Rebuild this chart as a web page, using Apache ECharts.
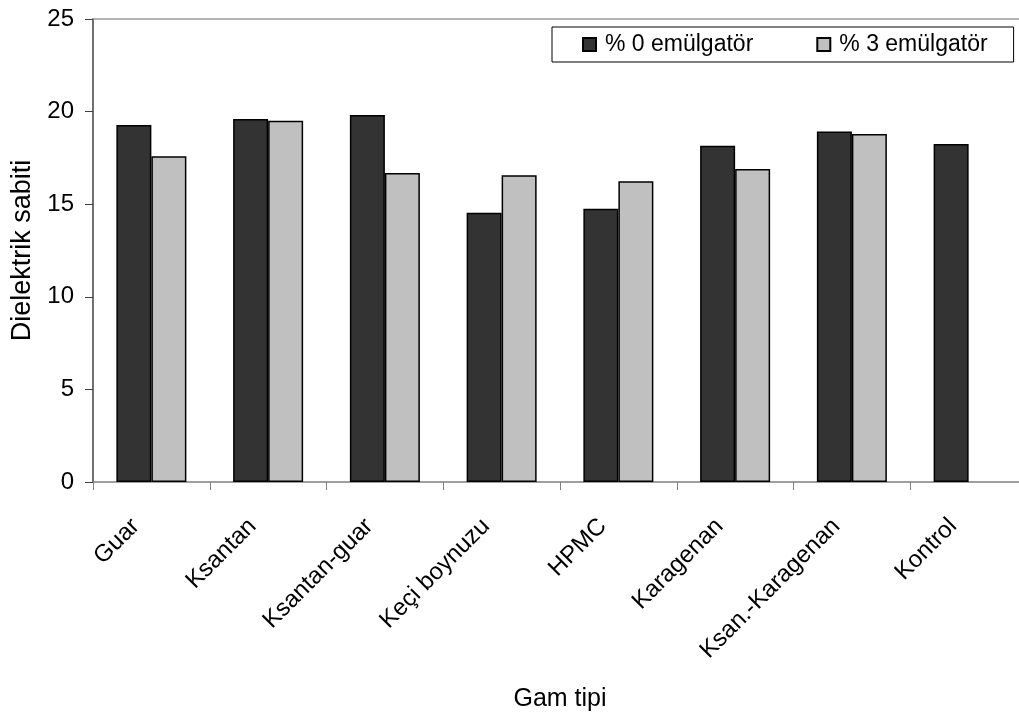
<!DOCTYPE html>
<html><head><meta charset="utf-8">
<script src="https://cdn.jsdelivr.net/npm/echarts@6/dist/echarts.min.js"></script>
<style>html,body{margin:0;padding:0;background:#fff;overflow:hidden;width:1019px;height:721px}#c{width:1040px;height:721px}</style>
</head><body><div id="c"></div>
<script>
const categories = ['Guar','Ksantan','Ksantan-guar','Keçi boynuzu','HPMC','Karagenan','Ksan.-Karagenan','Kontrol'];
const emul0 = [19.27, 19.6, 19.82, 14.54, 14.76, 18.15, 18.92, 18.25];
const emul3 = [17.59, 19.5, 16.69, 16.56, 16.24, 16.9, 18.79, null];
const seriesNames = ['% 0 emülgatör', '% 3 emülgatör'];
const yTicks = [0, 5, 10, 15, 20, 25];

const font = 'Liberation Sans, Arial, sans-serif';
const chart = echarts.init(document.getElementById('c'), null, {renderer: 'canvas'});
chart.setOption({
  animation: false,
  backgroundColor: '#fff',
  grid: {left: 93, top: 19, width: 934, height: 463, containLabel: false},
  legend: {
    left: 552, top: 27,
    data: seriesNames,
    icon: 'rect', itemWidth: 13, itemHeight: 13, itemGap: 63,
    borderColor: '#000', borderWidth: 1,
    padding: [6, 26, 6, 30],
    textStyle: {fontFamily: font, fontSize: 23, color: '#000', padding: [0,0,0,4]}
  },
  xAxis: [{
    type: 'category', data: categories,
    axisLine: {lineStyle: {color: '#808080', width: 1.5}},
    axisTick: {show: true, length: 8, lineStyle: {color: '#808080'}},
    axisLabel: {rotate: 45, margin: 25, padding: [0, 22, 0, 0], fontFamily: font, fontSize: 24, color: '#000', interval: 0},
    name: 'Gam tipi', nameLocation: 'middle', nameGap: 205,
    nameTextStyle: {fontFamily: font, fontSize: 25, color: '#000'}
  }, {
    type: 'category', data: categories, position: 'top',
    axisLine: {show: true, lineStyle: {color: '#999', width: 1.5}},
    axisTick: {show: false}, axisLabel: {show: false}
  }],
  yAxis: {
    type: 'value', min: 0, max: 25, interval: 5,
    axisLine: {show: true, lineStyle: {color: '#404040', width: 1.5}},
    axisTick: {show: true, length: 8, lineStyle: {color: '#404040'}},
    splitLine: {show: false},
    axisLabel: {fontFamily: font, fontSize: 24, color: '#000', margin: 19,
      formatter: v => yTicks.includes(v) ? String(v) : ''},
    name: 'Dielektrik sabiti', nameLocation: 'middle', nameGap: 57,
    nameTextStyle: {fontFamily: font, fontSize: 27, color: '#000'}
  },
  series: [{
    name: seriesNames[0], type: 'bar', data: emul0, xAxisIndex: 0,
    barWidth: 35, barGap: '0%',
    itemStyle: {color: '#333333', borderColor: '#000', borderWidth: 1.5}
  }, {
    name: seriesNames[1], type: 'bar', data: emul3, xAxisIndex: 0,
    barWidth: 35, barGap: '0%',
    itemStyle: {color: '#c0c0c0', borderColor: '#000', borderWidth: 1.5}
  }]
});
</script></body></html>
